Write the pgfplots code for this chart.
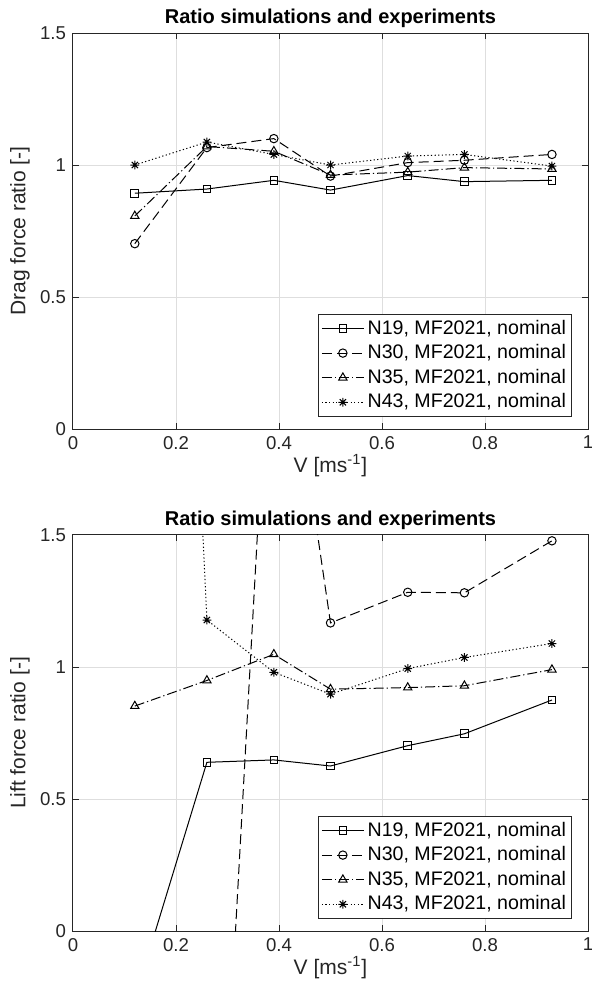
\documentclass[border=0pt]{standalone}
\usepackage{pgfplots}
\pgfplotsset{compat=1.18}
\usepackage{fontspec}
\setmainfont{Liberation Sans}
\definecolor{axgray}{RGB}{38,38,38}
\definecolor{gridgray}{RGB}{222,222,222}
\pgfdeclareplotmark{mstar}{%
  \pgfpathmoveto{\pgfqpoint{-\pgfplotmarksize}{0pt}}\pgfpathlineto{\pgfqpoint{\pgfplotmarksize}{0pt}}%
  \pgfpathmoveto{\pgfqpoint{0pt}{-\pgfplotmarksize}}\pgfpathlineto{\pgfqpoint{0pt}{\pgfplotmarksize}}%
  \pgfpathmoveto{\pgfqpoint{-0.707\pgfplotmarksize}{-0.707\pgfplotmarksize}}\pgfpathlineto{\pgfqpoint{0.707\pgfplotmarksize}{0.707\pgfplotmarksize}}%
  \pgfpathmoveto{\pgfqpoint{-0.707\pgfplotmarksize}{0.707\pgfplotmarksize}}\pgfpathlineto{\pgfqpoint{0.707\pgfplotmarksize}{-0.707\pgfplotmarksize}}%
  \pgfusepathqstroke}
\pgfplotsset{
  mystyle/.style={
    width=257.5pt, height=198pt, scale only axis,
    xmin=0, xmax=1, ymin=0, ymax=1.5,
    xtick={0,0.2,0.4,0.6,0.8,1}, xticklabels={0,0.2,0.4,0.6,0.8,1},
    ytick={0,0.5,1,1.5}, yticklabels={0,0.5,1,1.5},
    grid=major, major grid style={gridgray, line width=0.5pt},
    tick align=inside, xtick pos=both, ytick pos=both,
    major tick length=3pt,
    tick style={axgray, line width=0.5pt},
    axis line style={axgray, line width=0.5pt},
    tick label style={font=\fontsize{9.3}{11}\selectfont, text=axgray},
    label style={font=\fontsize{10.5}{12}\selectfont, text=axgray},
    title style={font=\bfseries\fontsize{10}{12}\selectfont, at={(axis description cs:0.5,1.038)}, anchor=center, yshift=-6pt},
    xlabel style={at={(axis description cs:0.5,-0.092)}, anchor=center},
    ylabel style={at={(axis description cs:-0.103,0.5)}, anchor=center, rotate=0},
    title={Ratio simulations and experiments},
    xlabel={V [ms\textsuperscript{-1}]},
    legend style={at={(1,0)}, anchor=south east, xshift=-8pt, yshift=6pt,
      draw=axgray, line width=0.5pt, fill=white,
      font=\fontsize{9.8}{11}\selectfont, row sep=0.5pt, inner sep=1.2pt,
      nodes={inner sep=1.6pt}},
    legend cell align=left,
    legend image code/.code={\draw[mark repeat=2,mark phase=2,#1] plot coordinates {(0cm,0cm) (0.37cm,0cm) (0.74cm,0cm)};},
  },
  s19/.style={black, line width=0.5pt, solid, mark=square, mark size=1.9pt, mark options={solid}},
  s30/.style={black, line width=0.5pt, dash pattern=on 5pt off 2.5pt, mark=o, mark size=2.1pt, mark options={solid}},
  s35/.style={black, line width=0.5pt, dash pattern=on 5pt off 1.5pt on 0.6pt off 1.5pt, mark=triangle, mark size=2.4pt, mark options={solid}},
  s43/.style={black, line width=0.5pt, dash pattern=on 0.6pt off 1.2pt, mark=mstar, mark size=2.2pt, mark options={solid}},
}
\begin{document}
\begin{tikzpicture}
\begin{axis}[mystyle, at={(36.5pt,-214.5pt)}, anchor=south west,
  ylabel={Drag force ratio [-]}]
\addplot[s19] coordinates {(0.12,0.893) (0.26,0.909) (0.39,0.942) (0.5,0.905) (0.65,0.96) (0.76,0.937) (0.93,0.942)};
\addlegendentry{N19, MF2021, nominal}
\addplot[s30] coordinates {(0.12,0.702) (0.26,1.066) (0.39,1.10) (0.5,0.958) (0.65,1.009) (0.76,1.018) (0.93,1.04)};
\addlegendentry{N30, MF2021, nominal}
\addplot[s35] coordinates {(0.12,0.807) (0.26,1.07) (0.39,1.052) (0.5,0.962) (0.65,0.973) (0.76,0.99) (0.93,0.985)};
\addlegendentry{N35, MF2021, nominal}
\addplot[s43] coordinates {(0.12,1.0) (0.26,1.087) (0.39,1.04) (0.5,1.0) (0.65,1.034) (0.76,1.04) (0.93,0.996)};
\addlegendentry{N43, MF2021, nominal}
\end{axis}
\begin{axis}[mystyle, at={(36.5pt,-465.5pt)}, anchor=south west,
  ylabel={Lift force ratio [-]}]
\addplot[s19] coordinates {(0.12,-0.256) (0.26,0.639) (0.39,0.648) (0.5,0.625) (0.65,0.702) (0.76,0.747) (0.93,0.875)};
\addlegendentry{N19, MF2021, nominal}
\addplot[s30] coordinates {(0.12,-2.5) (0.26,-1.96) (0.39,2.63) (0.5,1.167) (0.65,1.283) (0.76,1.281) (0.93,1.478)};
\addlegendentry{N30, MF2021, nominal}
\addplot[s35] coordinates {(0.12,0.852) (0.26,0.949) (0.39,1.048) (0.5,0.916) (0.65,0.922) (0.76,0.929) (0.93,0.99)};
\addlegendentry{N35, MF2021, nominal}
\addplot[s43] coordinates {(0.12,7.0) (0.26,1.178) (0.39,0.98) (0.5,0.897) (0.65,0.994) (0.76,1.036) (0.93,1.089)};
\addlegendentry{N43, MF2021, nominal}
\end{axis}
\pgfresetboundingbox
\path[use as bounding box] (0pt,0pt) rectangle (296pt,-500pt);
\end{tikzpicture}
\end{document}
